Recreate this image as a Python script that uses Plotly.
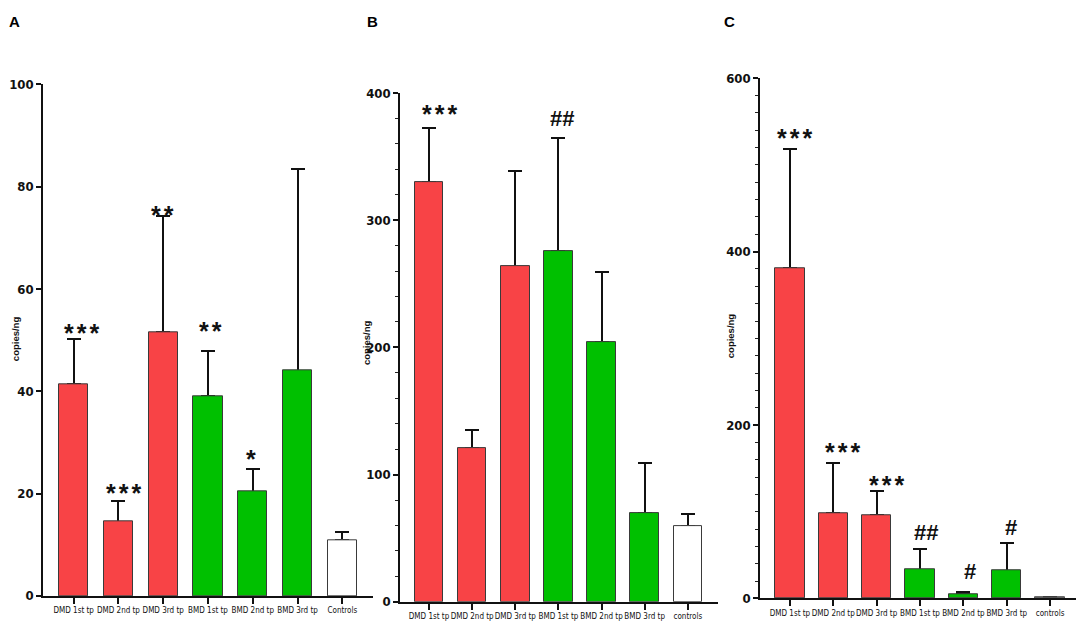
import plotly.graph_objects as go

# page body has an 8px default margin; figure is sized to fit inside the window
OFF = 8
W, H = 1084 - OFF, 641 - OFF

labels_a = ["DMD 1st tp", "DMD 2nd tp", "DMD 3rd tp", "BMD 1st tp", "BMD 2nd tp", "BMD 3rd tp", "Controls"]
labels_bc = ["DMD 1st tp", "DMD 2nd tp", "DMD 3rd tp", "BMD 1st tp", "BMD 2nd tp", "BMD 3rd tp", "controls"]

vals_a = [41.4, 14.5, 51.6, 39.0, 20.4, 44.0, 10.9]
err_a = [8.9, 4.1, 22.6, 8.9, 4.5, 39.4, 1.5]
sig_a = ["***", "***", "**", "**", "*", "", ""]

vals_b = [330.2, 120.6, 263.6, 275.5, 204.5, 70.0, 59.7]
err_b = [42.1, 14.8, 75.4, 89.5, 54.7, 39.0, 9.4]
sig_b = ["***", "", "", "##", "", "", ""]

vals_c = [381.0, 98.2, 96.2, 33.2, 4.6, 32.2, 1.0]
err_c = [137.4, 58.0, 27.7, 24.3, 2.3, 31.8, 0.8]
sig_c = ["***", "***", "***", "##", "#", "#", ""]

RED = "#F84346"
GREEN = "#00C000"
colors = [RED, RED, RED, GREEN, GREEN, GREEN, "#FFFFFF"]

TICKFONT = "DejaVu Sans Condensed, Liberation Sans, Arial, sans-serif"
TEXTFONT = "Liberation Sans, Arial, sans-serif"


def fx(px):
    return (px - OFF) / W


def fy(py):
    return 1 - (py - OFF) / H


panels = [
    dict(lab=labels_a, v=vals_a, e=err_a, s=sig_a, x0=43, x1=373, yb=603, yt=79,
         xr=[-0.685, 6.685], bw=0.65, yr=[0, 100], dt=20, minor=None,
         sx=[8, 6, -1, 2, -2, 0, 0], sy=[10, 12, 5, 24, 14, 0, 0],
         letter="A", lx=14, ytitle_x=15, ytitle_y=340),
    dict(lab=labels_bc, v=vals_b, e=err_b, s=sig_b, x0=400, x1=718, yb=609, yt=88,
         xr=[-0.673, 6.70], bw=0.66, yr=[0, 400], dt=100, minor=20,
         sx=[11, 0, 0, 4, 0, 0, 0], sy=[18, 0, 0, 19, 0, 0, 0],
         letter="B", lx=372, ytitle_x=366, ytitle_y=344),
    dict(lab=labels_bc, v=vals_c, e=err_c, s=sig_c, x0=760, x1=1080, yb=605.6, yt=72.8,
         xr=[-0.69, 6.69], bw=0.68, yr=[0, 600], dt=200, minor=20,
         sx=[5, 10, 10, 6, 7, 4, 0], sy=[15, 15, 10, 16, 21, 15, 0],
         letter="C", lx=729, ytitle_x=730, ytitle_y=337),
]

GAP = "<span style='font-size:11px'> </span>"


def sig_text(s):
    if s.startswith("*"):
        return GAP.join(list(s))
    return s


fig = go.Figure()
annotations = []
layout = dict(
    width=W, height=H, margin=dict(l=0, r=0, t=0, b=0),
    paper_bgcolor="white", plot_bgcolor="white", showlegend=False,
    bargap=0, barmode="overlay",
)

for i, p in enumerate(panels):
    n = "" if i == 0 else str(i + 1)
    xa, ya = "x" + n, "y" + n
    # error bars (upper only) on a transparent bar layer drawn beneath the bars
    fig.add_trace(go.Bar(
        x=p["lab"], y=p["v"], xaxis=xa, yaxis=ya, width=p["bw"],
        marker=dict(color="rgba(0,0,0,0)", line=dict(width=0)),
        error_y=dict(type="data", symmetric=False, array=p["e"],
                     arrayminus=[0] * len(p["e"]), color="#111111",
                     thickness=2, width=7),
        hoverinfo="skip",
    ))
    fig.add_trace(go.Bar(
        x=p["lab"], y=p["v"], xaxis=xa, yaxis=ya, width=p["bw"],
        marker=dict(color=colors, line=dict(color="#3a3a3a", width=1)),
        hoverinfo="skip",
    ))
    layout["xaxis" + n] = dict(
        domain=[fx(p["x0"]), fx(p["x1"])], anchor=ya, type="category",
        range=p["xr"], showgrid=False, zeroline=False,
        showline=True, linecolor="#111", linewidth=1.5,
        ticks="outside", ticklen=6, tickcolor="#111", tickwidth=1.5,
        tickfont=dict(family=TICKFONT, size=8, color="#111"),
        tickangle=0, fixedrange=True,
    )
    ydict = dict(
        domain=[fy(p["yb"]), fy(p["yt"])], anchor=xa,
        range=p["yr"], dtick=p["dt"], tick0=0, showgrid=False, zeroline=False,
        showline=True, linecolor="#111", linewidth=1.5,
        ticks="outside", ticklen=5, tickcolor="#111", tickwidth=1.5,
        tickfont=dict(family=TICKFONT, size=13, color="#111", weight="bold"),
        fixedrange=True,
    )
    if p["minor"]:
        ydict["minor"] = dict(dtick=p["minor"], ticks="outside", ticklen=3,
                              tickcolor="#222", tickwidth=1)
    layout["yaxis" + n] = ydict

    for j, (lab, v, e, s) in enumerate(zip(p["lab"], p["v"], p["e"], p["s"])):
        if not s:
            continue
        star = s.startswith("*")
        annotations.append(dict(
            x=lab, y=v + e, xref=xa, yref=ya, text=sig_text(s), showarrow=False,
            xanchor="center", yanchor="middle",
            xshift=p["sx"][j], yshift=p["sy"][j] - (4 if star else 0),
            font=dict(family=TEXTFONT, size=25 if star else 22, color="#111",
                      weight="bold"),
        ))
    annotations.append(dict(
        x=fx(p["lx"]), y=fy(15), xref="paper", yref="paper",
        text=p["letter"], showarrow=False, xanchor="center", yanchor="middle",
        font=dict(family=TEXTFONT, size=15, color="#000", weight="bold"),
    ))
    annotations.append(dict(
        x=fx(p["ytitle_x"]), y=fy(p["ytitle_y"]), xref="paper", yref="paper",
        text="copies/ng", textangle=-90, showarrow=False,
        xanchor="center", yanchor="middle",
        font=dict(family=TEXTFONT, size=9.5, color="#111", weight="bold"),
    ))

layout["annotations"] = annotations
fig.update_layout(**layout)
fig.write_html("out.html")
